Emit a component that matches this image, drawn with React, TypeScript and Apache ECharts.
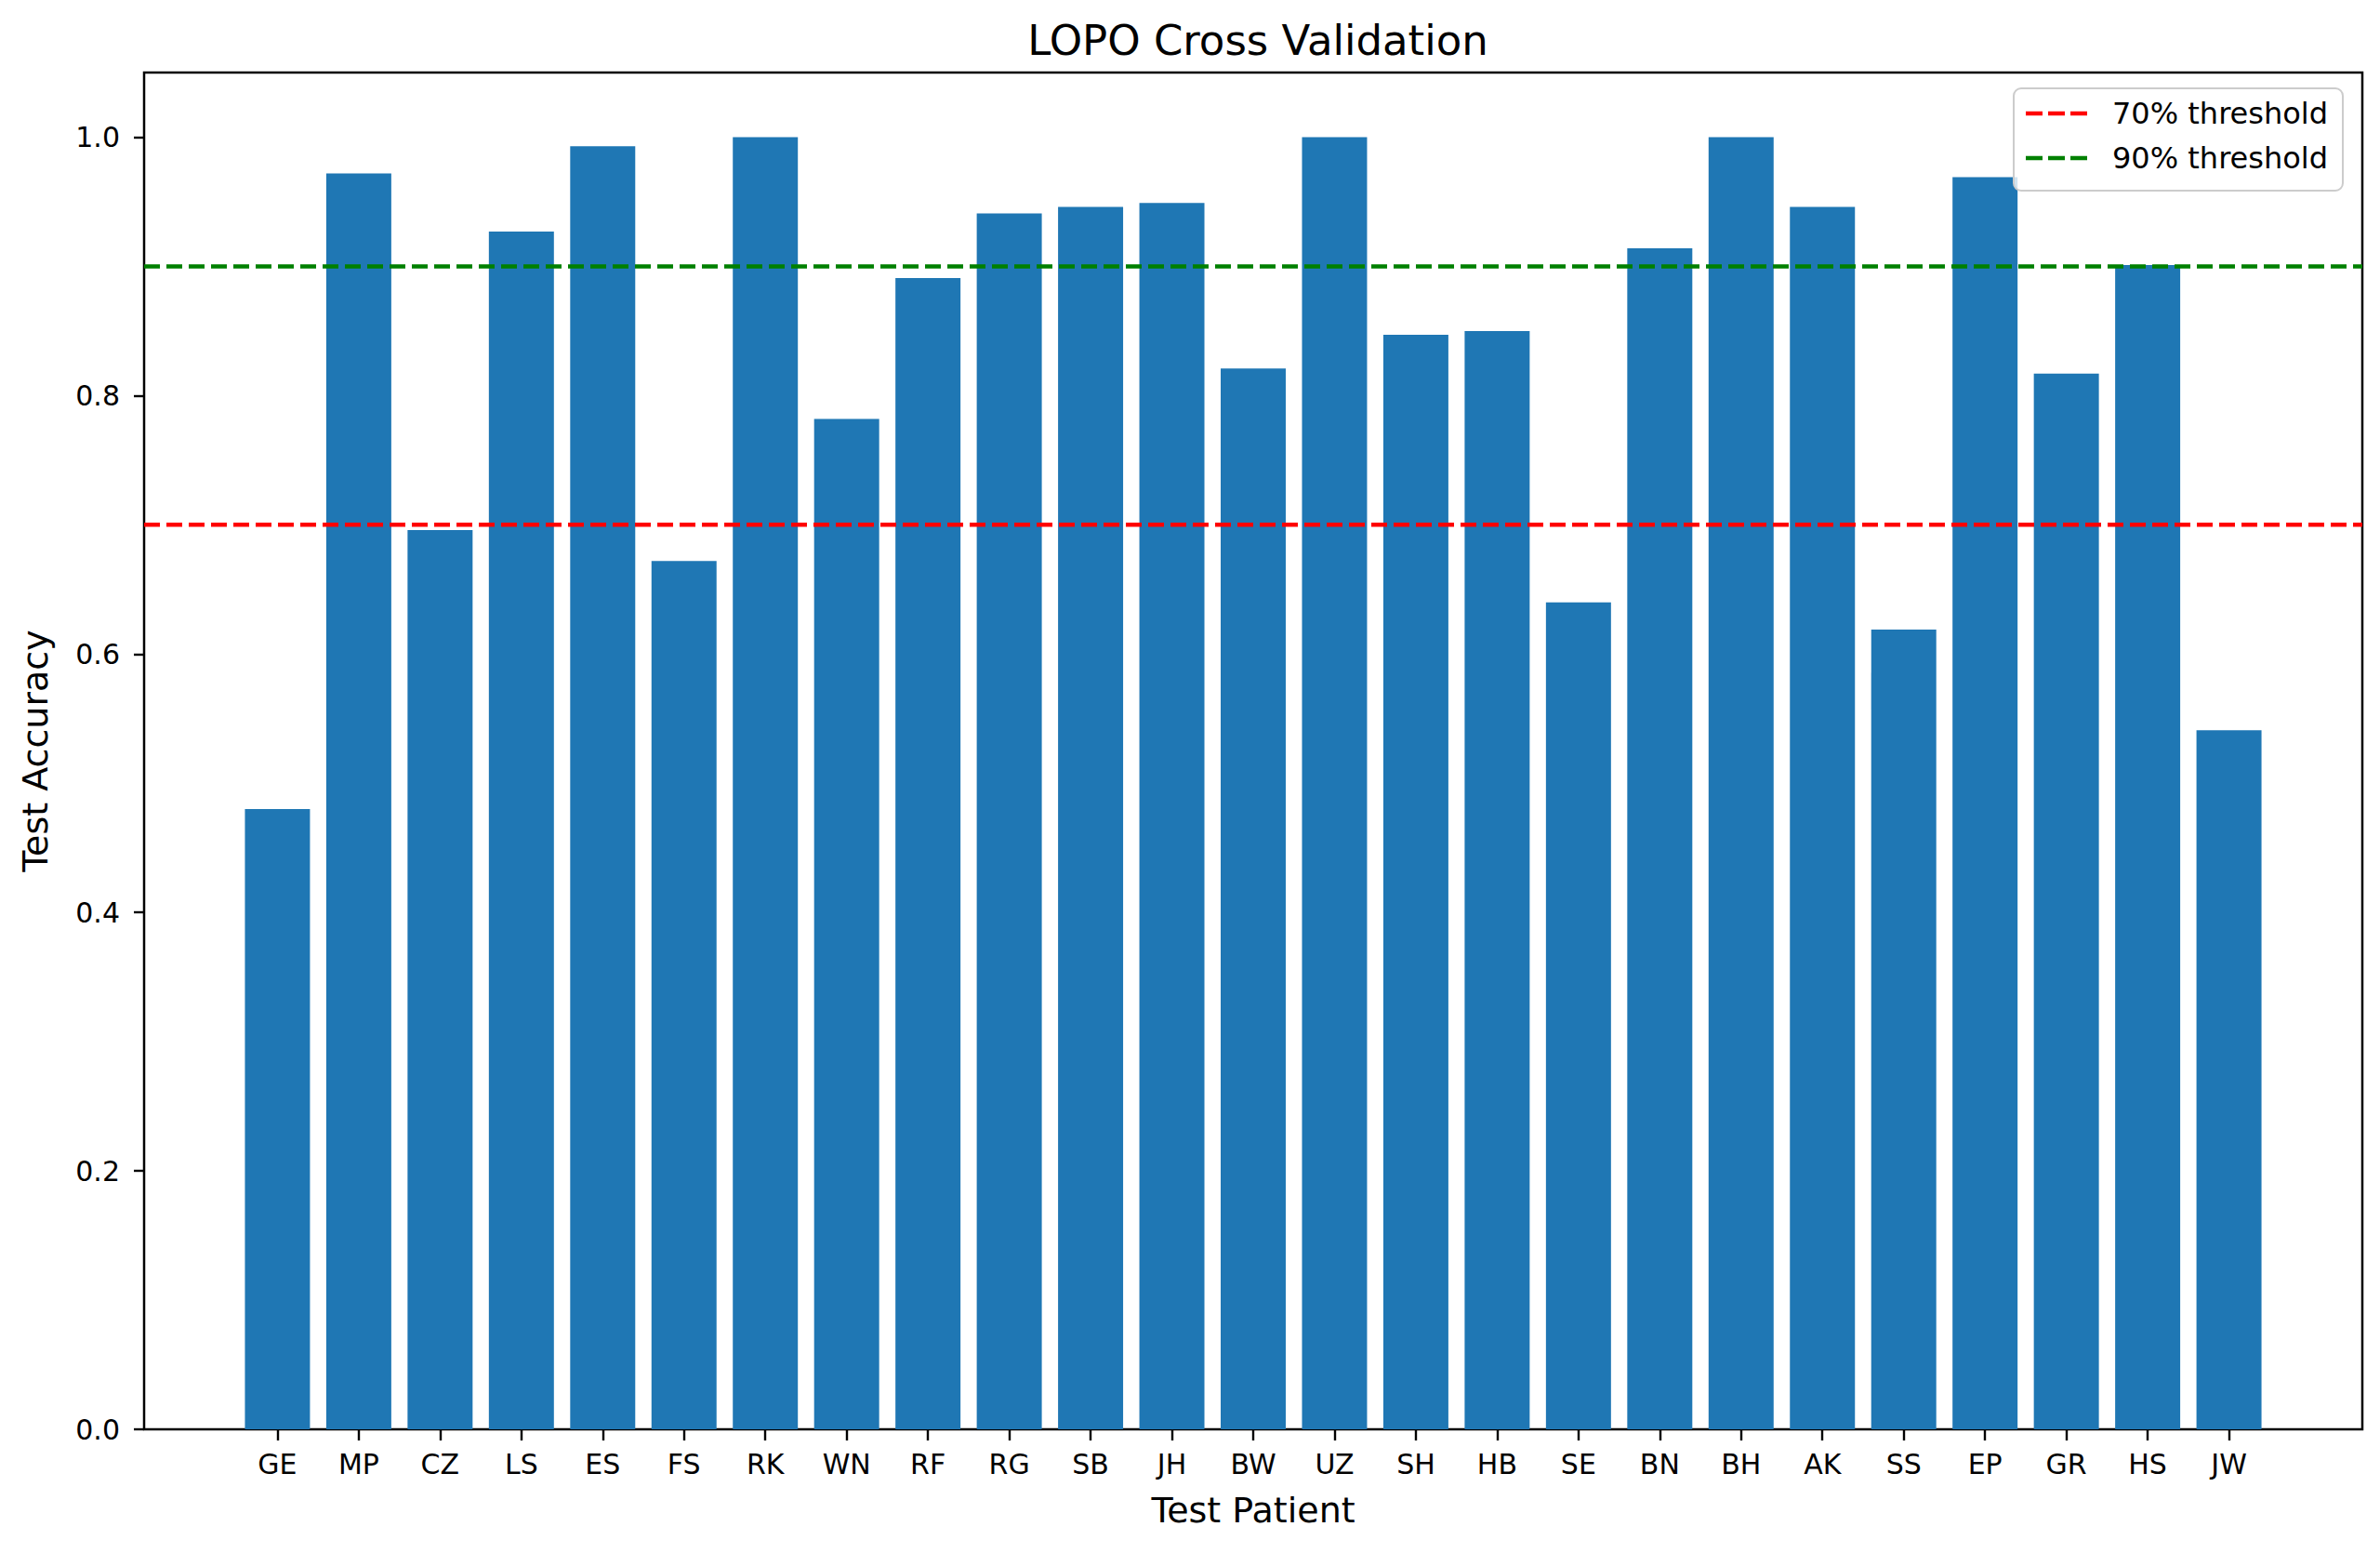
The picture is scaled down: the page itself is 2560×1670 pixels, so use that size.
import React, { useEffect, useRef } from "react";
import * as echarts from "echarts";

const PATIENTS = ["GE","MP","CZ","LS","ES","FS","RK","WN","RF","RG","SB","JH","BW","UZ","SH","HB","SE","BN","BH","AK","SS","EP","GR","HS","JW"];
const ACCURACY = [0.480,0.972,0.696,0.927,0.993,0.672,1.0,0.782,0.891,0.941,0.946,0.949,0.821,1.0,0.847,0.850,0.640,0.914,1.0,0.946,0.619,0.969,0.817,0.901,0.541];
const THRESHOLD_70 = 0.7;
const THRESHOLD_90 = 0.9;
const Y_TICKS = [0, 0.2, 0.4, 0.6, 0.8, 1.0];
const Y_MAX = 1.05;

const FONT = "DejaVu Sans";
const DASH_ICON = "path://M0 0h18v4.5H0z M24 0h18v4.5H24z M48 0h18v4.5H48z";

export default function App() {
  const ref = useRef<HTMLDivElement>(null);
  useEffect(() => {
    if (!ref.current) return;
    const chart = echarts.init(ref.current, null, { renderer: "svg" });
    const dash = [17, 7];
    chart.setOption({
      animation: false,
      backgroundColor: "#ffffff",
      textStyle: { fontFamily: FONT },
      title: {
        text: "LOPO Cross Validation",
        left: 1348,
        top: 16,
        textAlign: "center",
        textStyle: { fontFamily: FONT, fontSize: 45, fontWeight: "normal", color: "#000" },
      },
      legend: {
        orient: "vertical",
        left: 2166,
        top: 95,
        padding: [9, 16, 17, 13],
        itemWidth: 66,
        itemHeight: 4.5,
        itemGap: 12,
        backgroundColor: "rgba(255,255,255,0.8)",
        borderColor: "#cccccc",
        borderWidth: 2,
        borderRadius: 8,
        textStyle: { fontFamily: FONT, fontSize: 32, color: "#000", lineHeight: 36, padding: [0, 0, 0, 22] },
        data: [
          { name: "70% threshold", icon: DASH_ICON },
          { name: "90% threshold", icon: DASH_ICON },
        ],
      },
      grid: [
        { left: 254.7, right: 118.7, top: 78, bottom: 133, containLabel: false },
        { left: 155, right: 19, top: 78, bottom: 133, show: true, borderColor: "#000", borderWidth: 2.5, backgroundColor: "transparent", containLabel: false },
      ],
      xAxis: [
        {
          type: "category",
          gridIndex: 0,
          data: PATIENTS,
          boundaryGap: true,
          axisLine: { show: false },
          axisTick: { show: true, alignWithLabel: true, interval: 0, length: 12, lineStyle: { color: "#000", width: 2.4 } },
          axisLabel: { interval: 0, fontFamily: FONT, fontSize: 30, color: "#000", margin: 22 },
          name: "Test Patient",
          nameLocation: "middle",
          nameGap: 68,
          nameTextStyle: { fontFamily: FONT, fontSize: 38, color: "#000" },
          splitLine: { show: false },
        },
        {
          type: "value",
          gridIndex: 1,
          min: 0,
          max: 1,
          show: false,
          splitLine: { show: false },
        },
      ],
      yAxis: [
        {
          type: "value",
          gridIndex: 0,
          min: 0,
          max: Y_MAX,
          show: false,
          splitLine: { show: false },
        },
        {
          type: "value",
          gridIndex: 1,
          min: 0,
          max: Y_MAX,
          interval: 0.2,
          axisLine: { show: false },
          axisTick: { show: true, length: 11, lineStyle: { color: "#000", width: 2.4 }, customValues: Y_TICKS },
          axisLabel: {
            fontFamily: FONT,
            fontSize: 30,
            color: "#000",
            margin: 26,
            customValues: Y_TICKS,
            formatter: (v: number) => v.toFixed(1),
          },
          splitLine: { show: false },
          name: "Test Accuracy",
          nameLocation: "middle",
          nameGap: 98,
          nameTextStyle: { fontFamily: FONT, fontSize: 38, color: "#000" },
        },
      ],
      series: [
        {
          type: "bar",
          xAxisIndex: 0,
          yAxisIndex: 0,
          data: ACCURACY,
          barWidth: "80%",
          itemStyle: { color: "#1f77b4" },
          z: 2,
        },
        {
          name: "70% threshold",
          type: "line",
          xAxisIndex: 1,
          yAxisIndex: 1,
          data: [[0, THRESHOLD_70], [1, THRESHOLD_70]],
          symbol: "none",
          lineStyle: { color: "#ff0000", width: 4.5, type: dash },
          itemStyle: { color: "#ff0000" },
          z: 3,
        },
        {
          name: "90% threshold",
          type: "line",
          xAxisIndex: 1,
          yAxisIndex: 1,
          data: [[0, THRESHOLD_90], [1, THRESHOLD_90]],
          symbol: "none",
          lineStyle: { color: "#008000", width: 4.5, type: dash },
          itemStyle: { color: "#008000" },
          z: 3,
        },
      ],
    });
    return () => chart.dispose();
  }, []);
  return <div ref={ref} style={{ position: "absolute", left: 0, top: 0, width: 2560, height: 1670 }} />;
}
